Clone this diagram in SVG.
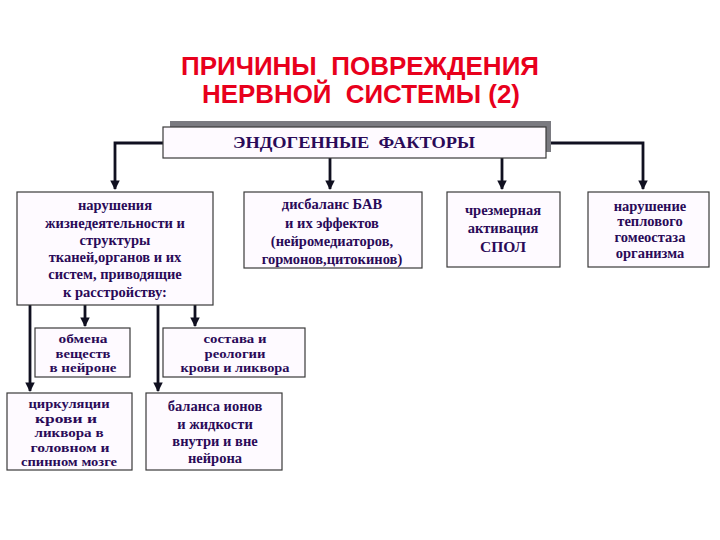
<svg xmlns="http://www.w3.org/2000/svg" width="720" height="540" viewBox="0 0 720 540">
<defs>
<marker id="ah" viewBox="0 0 10 10" refX="9" refY="5" markerWidth="3.4" markerHeight="3.4" orient="auto" markerUnits="strokeWidth">
<path d="M0,0 L10,5 L0,10 z" fill="#101020"/>
</marker>
</defs>
<style>
.ttl{font-family:"Liberation Sans",Arial,sans-serif;font-weight:bold;font-size:26px;fill:#e8001c;text-anchor:middle;white-space:pre}
.box{fill:#fefaff;stroke:#3a3a3a;stroke-width:1.2}
.t{font-family:"Liberation Serif","Times New Roman",serif;font-weight:bold;font-size:14.5px;fill:#2a0a58;text-anchor:middle}
.s{font-size:12.8px}
.h{font-family:"Liberation Serif","Times New Roman",serif;font-weight:bold;font-size:16px;fill:#2a0a58;text-anchor:middle;white-space:pre}
.c{fill:none;stroke:#101020;stroke-width:2.8}
</style>
<rect width="720" height="540" fill="#ffffff"/>
<g id="title">
<text class="ttl" x="360" y="75" textLength="358" lengthAdjust="spacingAndGlyphs">ПРИЧИНЫ  ПОВРЕЖДЕНИЯ</text>
<text class="ttl" x="361" y="103" textLength="318" lengthAdjust="spacingAndGlyphs">НЕРВНОЙ  СИСТЕМЫ (2)</text>
</g>
<g id="connectors">
<path class="c" d="M163,143 H115 V189" marker-end="url(#ah)"/>
<path class="c" d="M551,143 H643 V189" marker-end="url(#ah)"/>
<path class="c" d="M330,158 V189" marker-end="url(#ah)"/>
<path class="c" d="M502,158 V189" marker-end="url(#ah)"/>
<path class="c" d="M30,305 V391" marker-end="url(#ah)"/>
<path class="c" d="M158,305 V391" marker-end="url(#ah)"/>
<path class="c" d="M85,305 V326" marker-end="url(#ah)"/>
<path class="c" d="M195,305 V326" marker-end="url(#ah)"/>
</g>
<g id="header">
<rect x="170" y="121" width="381" height="31" fill="#7a7a80"/>
<rect x="163" y="127" width="383" height="31" fill="#fefaff" stroke="#3a3a3a" stroke-width="1.2"/>
<text class="h" x="354" y="148" textLength="242" lengthAdjust="spacingAndGlyphs">ЭНДОГЕННЫЕ  ФАКТОРЫ</text>
</g>
<g id="box1">
<rect class="box" x="17" y="192" width="196" height="113"/>
<text class="t" x="115" y="210">нарушения</text>
<text class="t" x="115" y="228">жизнедеятельности и</text>
<text class="t" x="115" y="245">структуры</text>
<text class="t" x="115" y="262">тканей,органов и их</text>
<text class="t" x="115" y="279">систем, приводящие</text>
<text class="t" x="115" y="297">к расстройству:</text>
</g>
<g id="box2">
<rect class="box" x="244" y="192" width="178" height="76"/>
<text class="t" x="332" y="209">дисбаланс БАВ</text>
<text class="t" x="332" y="228">и их эффектов</text>
<text class="t" x="332" y="246">(нейромедиаторов,</text>
<text class="t" x="332" y="264">гормонов,цитокинов)</text>
</g>
<g id="box3">
<rect class="box" x="447" y="192" width="113" height="75"/>
<text class="t" x="503" y="215">чрезмерная</text>
<text class="t" x="503" y="233">активация</text>
<text class="t" x="503" y="252" style="font-size:15.5px">СПОЛ</text>
</g>
<g id="box4">
<rect class="box" x="588" y="192" width="121" height="75"/>
<text class="t" x="650" y="211">нарушение</text>
<text class="t" x="650" y="226">теплового</text>
<text class="t" x="650" y="242">гомеостаза</text>
<text class="t" x="650" y="258">организма</text>
</g>
<g id="box5">
<rect class="box" x="35" y="328" width="95" height="49"/>
<text class="t s" x="83" y="343" textLength="49" lengthAdjust="spacingAndGlyphs">обмена</text>
<text class="t s" x="83" y="357.5" textLength="55" lengthAdjust="spacingAndGlyphs">веществ</text>
<text class="t s" x="83" y="372" textLength="67" lengthAdjust="spacingAndGlyphs">в нейроне</text>
</g>
<g id="box6">
<rect class="box" x="163" y="328" width="142" height="49"/>
<text class="t s" x="235" y="343" textLength="63" lengthAdjust="spacingAndGlyphs">состава и</text>
<text class="t s" x="235" y="357.5" textLength="61" lengthAdjust="spacingAndGlyphs">реологии</text>
<text class="t s" x="235" y="372" textLength="109" lengthAdjust="spacingAndGlyphs">крови и ликвора</text>
</g>
<g id="box7">
<rect class="box" x="7" y="393" width="125" height="77"/>
<text class="t s" x="69" y="408" textLength="81" lengthAdjust="spacingAndGlyphs">циркуляции</text>
<text class="t s" x="66" y="422.5" textLength="62" lengthAdjust="spacingAndGlyphs">крови и</text>
<text class="t s" x="69" y="437" textLength="69" lengthAdjust="spacingAndGlyphs">ликвора в</text>
<text class="t s" x="70" y="451.5" textLength="79" lengthAdjust="spacingAndGlyphs">головном и</text>
<text class="t s" x="69" y="466" textLength="96" lengthAdjust="spacingAndGlyphs">спинном мозге</text>
</g>
<g id="box8">
<rect class="box" x="146" y="393" width="136" height="77"/>
<text class="t" x="215" y="411">баланса ионов</text>
<text class="t" x="215" y="429">и жидкости</text>
<text class="t" x="215" y="446">внутри и вне</text>
<text class="t" x="215" y="463">нейрона</text>
</g>
</svg>
